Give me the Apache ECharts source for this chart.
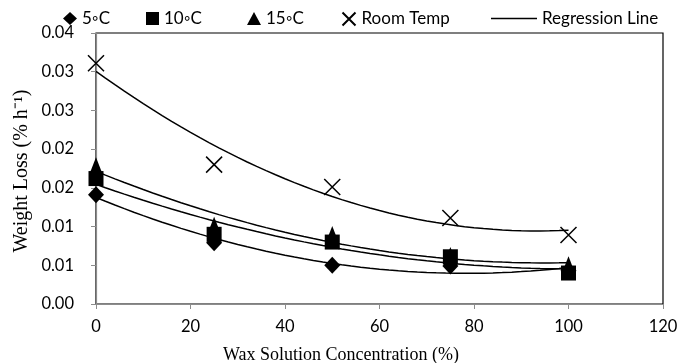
<!DOCTYPE html>
<html>
<head>
<meta charset="utf-8">
<script src="https://cdn.jsdelivr.net/npm/echarts@6/dist/echarts.min.js"></script>
<style>
  html, body { margin: 0; padding: 0; background: #fff; }
  #chart { width: 700px; height: 363px; }
</style>
</head>
<body>
<div id="chart"></div>
<script>
// wax concentration (%)
const concentration = [0, 25, 50, 75, 100];
// weight loss (% h-1)
const temp5 = [0.0141, 0.0079, 0.0050, 0.0049, 0.0043];
const temp10 = [0.0162, 0.0090, 0.0080, 0.0061, 0.0040];
const temp15 = [0.0178, 0.0101, 0.0089, 0.0062, 0.0050];
const roomTemp = [0.0311, 0.0180, 0.0151, 0.0111, 0.0089];
const yTickLabels = ['0.00', '0.01', '0.01', '0.02', '0.02', '0.03', '0.03', '0.04'];

// 2nd order polynomial least squares, like the spreadsheet trendline
function polyFit(xs, ys) {
  let s = [0, 0, 0, 0, 0], t = [0, 0, 0];
  xs.forEach((x, i) => {
    for (let k = 0; k < 5; k++) s[k] += Math.pow(x, k);
    for (let k = 0; k < 3; k++) t[k] += Math.pow(x, k) * ys[i];
  });
  let m = [[s[0], s[1], s[2], t[0]], [s[1], s[2], s[3], t[1]], [s[2], s[3], s[4], t[2]]];
  for (let c = 0; c < 3; c++) {
    for (let r = c + 1; r < 3; r++) {
      let f = m[r][c] / m[c][c];
      for (let k = c; k < 4; k++) m[r][k] -= f * m[c][k];
    }
  }
  let a = [0, 0, 0];
  for (let r = 2; r >= 0; r--) {
    let v = m[r][3];
    for (let k = r + 1; k < 3; k++) v -= m[r][k] * a[k];
    a[r] = v / m[r][r];
  }
  return a;
}

function trend(ys) {
  const a = polyFit(concentration, ys);
  const pts = [];
  for (let x = 0; x <= 100; x += 2) pts.push([x, a[0] + a[1] * x + a[2] * x * x]);
  return pts;
}

function pairs(ys) {
  return concentration.map((x, i) => [x, ys[i]]);
}

const crossPath = 'path://M0,0L10,10M10,0L0,10';

function markerSeries(name, ys, symbol, size, z) {
  return {
    name: name,
    type: 'scatter',
    data: pairs(ys),
    symbol: symbol,
    symbolSize: size,
    z: z,
    itemStyle: { color: '#000', opacity: 1 }
  };
}

function lineSeries(ys) {
  return {
    name: 'Regression Line',
    type: 'line',
    data: trend(ys),
    showSymbol: false,
    symbol: 'none',
    z: 1,
    lineStyle: { color: '#000', width: 1.5 },
    itemStyle: { color: '#000' }
  };
}

const legendText = { fontFamily: 'Lato', fontSize: 17, color: '#000' };

function oneLegend(item, left, w, h) {
  return {
    data: [item],
    left: left,
    top: 5,
    itemWidth: w,
    itemHeight: h,
    itemGap: 0,
    textStyle: legendText,
    selectedMode: false
  };
}

let option = {
  animation: false,
  backgroundColor: '#fff',
  legend: [
    oneLegend('5◦C', 58, 14, 13),
    oneLegend('10◦C', 141, 13, 13),
    oneLegend('15◦C', 242, 14, 13),
    oneLegend('Room Temp', 335, 15, 13),
    oneLegend({ name: 'Regression Line', icon: 'rect', itemStyle: { color: '#000' } }, 486, 46, 1.5)
  ],
  grid: {
    left: 96, right: 37, top: 33, bottom: 59,
    show: true, borderColor: '#000', borderWidth: 1.2
  },
  xAxis: {
    type: 'value',
    min: 0, max: 120, interval: 20,
    axisLine: { lineStyle: { color: '#8c8c8c', width: 1.2 } },
    axisTick: { show: true, length: 5, lineStyle: { color: '#8c8c8c' } },
    axisLabel: { fontFamily: 'Lato', fontSize: 16.5, color: '#000', margin: 14 },
    splitLine: { show: false }
  },
  yAxis: {
    type: 'value',
    min: 0, max: 0.035, interval: 0.005,
    axisLine: { show: true, lineStyle: { color: '#8c8c8c', width: 1.2 } },
    axisTick: { show: true, length: 5, lineStyle: { color: '#8c8c8c' } },
    axisLabel: {
      fontFamily: 'Lato', fontSize: 16.5, color: '#000', margin: 22,
      formatter: v => yTickLabels[Math.round(v / 0.005)]
    },
    splitLine: { show: false }
  },
  graphic: [
    {
      type: 'text', x: 341, y: 355,
      style: {
        text: 'Wax Solution Concentration (%)',
        align: 'center', verticalAlign: 'middle',
        font: '18px "Liberation Serif"', fill: '#000'
      }
    },
    {
      type: 'text', x: 22, y: 171, rotation: Math.PI / 2,
      style: {
        text: 'Weight Loss (% h⁻¹)',
        align: 'center', verticalAlign: 'middle',
        font: '20px "Liberation Serif"', fill: '#000'
      }
    }
  ],
  series: [
    lineSeries(temp5),
    lineSeries(temp10),
    lineSeries(temp15),
    lineSeries(roomTemp),
    markerSeries('15◦C', temp15, 'triangle', [14, 18], 3),
    markerSeries('10◦C', temp10, 'rect', 15, 4),
    markerSeries('5◦C', temp5, 'diamond', [16, 17], 5),
    {
      name: 'Room Temp',
      type: 'scatter',
      data: pairs(roomTemp),
      symbol: crossPath,
      symbolSize: 16,
      z: 5,
      itemStyle: { color: 'none', borderColor: '#000', borderWidth: 1.5, opacity: 1 }
    }
  ]
};

let myChart = echarts.init(document.getElementById('chart'));
myChart.setOption(option);
</script>
</body>
</html>
